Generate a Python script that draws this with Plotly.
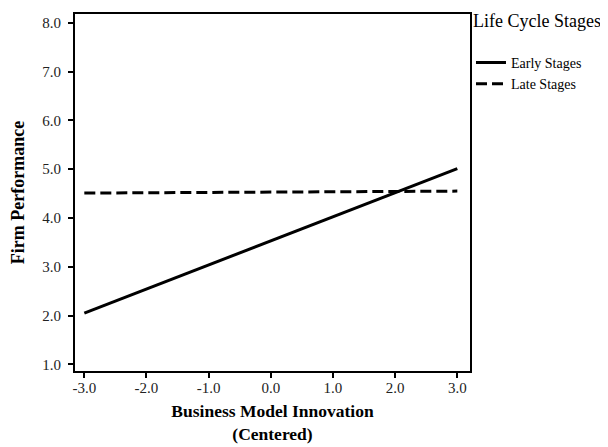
import plotly.graph_objects as go

x_vals = [-3.0, 3.0]
early = [2.05, 5.01]
late = [4.51, 4.55]
series_names = ["Early Stages", "Late Stages"]
x_ticks = [-3.0, -2.0, -1.0, 0.0, 1.0, 2.0, 3.0]
y_ticks = [1.0, 2.0, 3.0, 4.0, 5.0, 6.0, 7.0, 8.0]

font_family = "Liberation Serif, Times New Roman, serif"

fig = go.Figure()
fig.add_trace(go.Scatter(x=x_vals, y=early, mode="lines", name=series_names[0],
                         line=dict(color="black", width=3)))
fig.add_trace(go.Scatter(x=x_vals, y=late, mode="lines", name=series_names[1],
                         line=dict(color="black", width=3, dash="11px,5px")))

axis_common = dict(showline=True, linecolor="black", linewidth=2, mirror=True,
                   ticks="outside", ticklen=5, tickwidth=2, tickcolor="black",
                   showgrid=False, zeroline=False,
                   tickfont=dict(family=font_family, size=15, color="#222"))

fig.update_xaxes(range=[-3.15, 3.204], tickvals=x_ticks,
                 ticktext=[f"{v:.1f}" for v in x_ticks],
                 ticklabelstandoff=-3, automargin=True,
                 title=dict(text="<b>Business Model Innovation<br>(Centered)</b>",
                            font=dict(family=font_family, size=17.5, color="black"),
                            standoff=10),
                 **axis_common)
fig.update_yaxes(range=[0.863, 8.18], tickvals=y_ticks,
                 ticktext=[f"{v:.1f}" for v in y_ticks],
                 ticklabelstandoff=4, automargin=False,
                 title=dict(text="<b>Firm Performance</b>",
                            font=dict(family=font_family, size=18, color="black"),
                            standoff=13),
                 **axis_common)

fig.add_annotation(text="Life Cycle Stages", xref="paper", yref="paper",
                   x=1.004, y=0.98, xanchor="left", yanchor="middle", showarrow=False,
                   borderpad=0,
                   font=dict(family=font_family, size=18, color="black"))

# the page body adds an 8px offset, so margins are shifted to compensate
fig.update_layout(
    width=608, height=447,
    margin=dict(l=67, r=146, t=4, b=84),
    paper_bgcolor="white", plot_bgcolor="white",
    font=dict(family=font_family, color="black"),
    legend=dict(x=1.0025, y=0.908, xanchor="left", yanchor="top",
                font=dict(family=font_family, size=14, color="black"),
                itemwidth=30, tracegroupgap=0, bgcolor="rgba(0,0,0,0)"),
)

fig.write_html("out.html")
